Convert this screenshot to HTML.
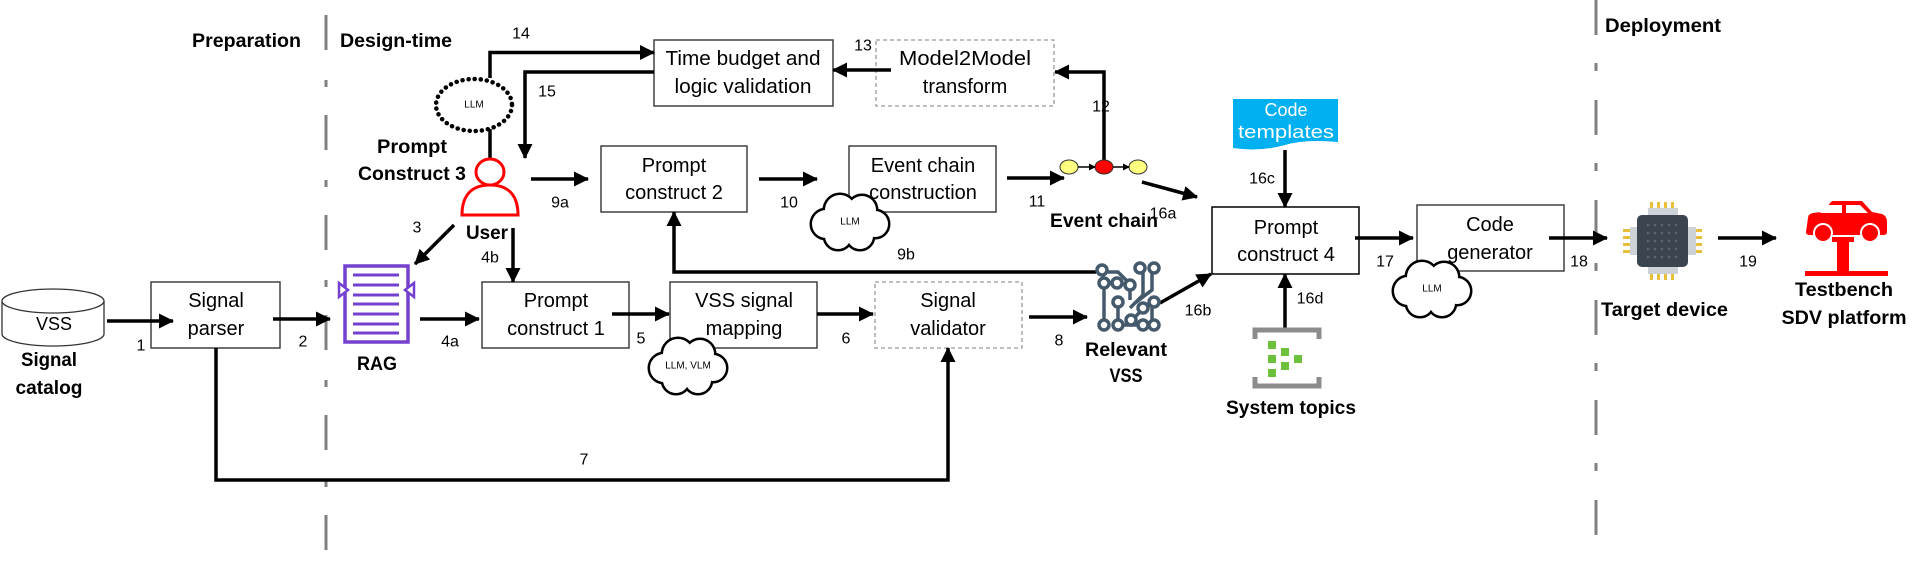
<!DOCTYPE html>
<html><head><meta charset="utf-8"><style>
html,body{margin:0;padding:0;background:#fff;}
svg{display:block;}
text{font-family:"Liberation Sans",sans-serif;fill:#000;}
.b{font-weight:bold;font-size:19px;}
.bx{font-size:20px;}
.n{font-size:16px;}
.s{font-size:10px;}
</style></head><body>
<svg width="1913" height="568" viewBox="0 0 1913 568" xmlns="http://www.w3.org/2000/svg">
<defs>
<marker id="a" markerUnits="userSpaceOnUse" markerWidth="16" markerHeight="16" refX="14" refY="7.5" orient="auto"><path d="M0,0 L15,7.5 L0,15 z" fill="#000"/></marker>
<marker id="sm" markerUnits="userSpaceOnUse" markerWidth="8" markerHeight="8" refX="6" refY="3.5" orient="auto"><path d="M0,0 L7,3.5 L0,7 z" fill="#000"/></marker>
</defs>

<line x1="326" y1="15" x2="326" y2="556" stroke="#808080" stroke-width="3" stroke-dasharray="35,30,7,28"/>
<line x1="1596" y1="0" x2="1596" y2="556" stroke="#808080" stroke-width="3" stroke-dasharray="35,28,8,29"/>

<text class="b" x="192" y="47" textLength="109" lengthAdjust="spacingAndGlyphs">Preparation</text>
<text class="b" x="340" y="47" textLength="112" lengthAdjust="spacingAndGlyphs">Design-time</text>
<text class="b" x="1605" y="32" textLength="116" lengthAdjust="spacingAndGlyphs">Deployment</text>

<g fill="#fff" stroke="#404040" stroke-width="1.5">
<rect x="151" y="282" width="129" height="66"/>
<rect x="482" y="282" width="147" height="66"/>
<rect x="670" y="282" width="147" height="66"/>
<rect x="601" y="146" width="146" height="66"/>
<rect x="849" y="146" width="147" height="66"/>
<rect x="654" y="40" width="179" height="66"/>
<rect x="1212" y="207" width="147" height="67" stroke="#000"/>
<rect x="1417" y="205" width="147" height="66"/>
</g>
<g fill="#fff" stroke="#999" stroke-width="1.3" stroke-dasharray="4,3">
<rect x="876" y="40" width="178" height="66"/>
<rect x="875" y="282" width="147" height="66"/>
</g>

<g class="bx" text-anchor="middle" dominant-baseline="central">
<text x="216" y="301" class="bx">Signal</text><text x="216" y="329" class="bx">parser</text>
<text x="556" y="301" class="bx">Prompt</text><text x="556" y="329" class="bx">construct 1</text>
<text x="744" y="301" class="bx">VSS signal</text><text x="744" y="329" class="bx">mapping</text>
<text x="948" y="301" class="bx">Signal</text><text x="948" y="329" class="bx">validator</text>
<text x="674" y="166" class="bx">Prompt</text><text x="674" y="193" class="bx">construct 2</text>
<text x="923" y="166" class="bx">Event chain</text><text x="923" y="193" class="bx">construction</text>
<text x="743" y="59" class="bx" textLength="155" lengthAdjust="spacingAndGlyphs">Time budget and</text><text x="743" y="87" class="bx" textLength="137" lengthAdjust="spacingAndGlyphs">logic validation</text>
<text x="965" y="59" class="bx" textLength="132" lengthAdjust="spacingAndGlyphs">Model2Model</text><text x="965" y="87" class="bx">transform</text>
<text x="1286" y="228" class="bx">Prompt</text><text x="1286" y="255" class="bx">construct 4</text>
<text x="1490" y="225" class="bx">Code</text><text x="1490" y="253" class="bx">generator</text>
</g>

<path d="M2,301 V334 A51,12 0 0 0 104,334 V301" fill="#fff" stroke="#333" stroke-width="1.3"/>
<ellipse cx="53" cy="301" rx="51" ry="12" fill="#fff" stroke="#333" stroke-width="1.3"/>
<text x="54" y="324" class="bx" text-anchor="middle" dominant-baseline="central" style="font-size:18px">VSS</text>
<text class="b" x="49" y="366" text-anchor="middle" textLength="56" lengthAdjust="spacingAndGlyphs">Signal</text>
<text class="b" x="49" y="394" text-anchor="middle" textLength="67" lengthAdjust="spacingAndGlyphs">catalog</text>

<g stroke="#7440d0" stroke-width="3.5" fill="none">
<rect x="345" y="266" width="63" height="76"/>
<g stroke-width="3"><line x1="353" y1="275" x2="399" y2="275"/><line x1="353" y1="285" x2="399" y2="285"/><line x1="353" y1="295" x2="399" y2="295"/><line x1="353" y1="304" x2="399" y2="304"/><line x1="353" y1="314" x2="399" y2="314"/><line x1="353" y1="324" x2="399" y2="324"/><line x1="353" y1="333" x2="399" y2="333"/></g>
<path d="M339,283 L348,290 L339,297 z" fill="#fff" stroke-width="2.5"/>
<path d="M414,283 L405,290 L414,297 z" fill="#fff" stroke-width="2.5"/>
</g>
<text class="b" x="377" y="370" text-anchor="middle" textLength="40" lengthAdjust="spacingAndGlyphs">RAG</text>

<g stroke="#000" stroke-width="3.5" fill="none" marker-end="url(#a)">
<line x1="107" y1="321" x2="173" y2="321"/>
<line x1="273" y1="319" x2="330" y2="319"/>
<line x1="420" y1="319" x2="479" y2="319"/>
<line x1="612" y1="314" x2="669" y2="314"/>
<line x1="817" y1="314" x2="873" y2="314"/>
<line x1="1029" y1="317" x2="1087" y2="317"/>
<line x1="454" y1="225" x2="415" y2="264"/>
<line x1="513" y1="228" x2="513" y2="282"/>
<line x1="531" y1="179" x2="588" y2="179"/>
<line x1="759" y1="179" x2="817" y2="179"/>
<line x1="1007" y1="178" x2="1064" y2="178"/>
<line x1="1142" y1="182" x2="1197" y2="197"/>
<line x1="1160" y1="303" x2="1211" y2="274"/>
<line x1="1285" y1="150" x2="1285" y2="207"/>
<line x1="1285" y1="328" x2="1285" y2="274"/>
<line x1="1355" y1="238" x2="1413" y2="238"/>
<line x1="1549" y1="238" x2="1607" y2="238"/>
<line x1="1718" y1="238" x2="1776" y2="238"/>
<line x1="891" y1="70" x2="833" y2="70"/>
<polyline points="490,78 490,52.5 654,52.5"/>
<polyline points="654,72 525,72 525,158"/>
<polyline points="1104,161 1104,72 1055,72"/>
<polyline points="1096,272 674,272 674,212"/>
<polyline points="216,348 216,480 948,480 948,348"/>
</g>
<line x1="490" y1="129" x2="490" y2="159" stroke="#000" stroke-width="3.5"/>

<g class="n" text-anchor="middle" dominant-baseline="central">
<text class="n" x="141" y="346">1</text>
<text class="n" x="303" y="342">2</text>
<text class="n" x="417" y="228">3</text>
<text class="n" x="450" y="342">4a</text>
<text class="n" x="490" y="258">4b</text>
<text class="n" x="641" y="339">5</text>
<text class="n" x="846" y="339">6</text>
<text class="n" x="584" y="460">7</text>
<text class="n" x="1059" y="341">8</text>
<text class="n" x="560" y="203">9a</text>
<text class="n" x="906" y="255">9b</text>
<text class="n" x="789" y="203">10</text>
<text class="n" x="1037" y="202">11</text>
<text class="n" x="1101" y="107">12</text>
<text class="n" x="863" y="46">13</text>
<text class="n" x="521" y="34">14</text>
<text class="n" x="547" y="92">15</text>
<text class="n" x="1163" y="214">16a</text>
<text class="n" x="1198" y="311">16b</text>
<text class="n" x="1262" y="179">16c</text>
<text class="n" x="1310" y="299">16d</text>
<text class="n" x="1385" y="262">17</text>
<text class="n" x="1579" y="262">18</text>
<text class="n" x="1748" y="262">19</text>
</g>

<ellipse cx="474" cy="105" rx="38" ry="26" fill="#fff" stroke="#000" stroke-width="4.5" stroke-dasharray="0.1,6" stroke-linecap="round"/>
<text class="s" x="474" y="105" text-anchor="middle" dominant-baseline="central">LLM</text>

<g>
<g stroke="#000" stroke-width="5" fill="#000">
<circle cx="826" cy="224" r="14"/><circle cx="840" cy="210" r="15"/><circle cx="862" cy="210" r="14"/><circle cx="875" cy="224" r="13"/><circle cx="860" cy="236" r="13"/><circle cx="838" cy="236" r="13"/>
<circle cx="664" cy="368" r="14"/><circle cx="678" cy="354" r="15"/><circle cx="700" cy="354" r="14"/><circle cx="713" cy="368" r="13"/><circle cx="698" cy="380" r="13"/><circle cx="676" cy="380" r="13"/>
<circle cx="1408" cy="291" r="14"/><circle cx="1422" cy="277" r="15"/><circle cx="1444" cy="277" r="14"/><circle cx="1457" cy="291" r="13"/><circle cx="1442" cy="303" r="13"/><circle cx="1420" cy="303" r="13"/>
</g>
<g fill="#fff">
<circle cx="826" cy="224" r="14"/><circle cx="840" cy="210" r="15"/><circle cx="862" cy="210" r="14"/><circle cx="875" cy="224" r="13"/><circle cx="860" cy="236" r="13"/><circle cx="838" cy="236" r="13"/><rect x="830" y="214" width="40" height="20"/>
<circle cx="664" cy="368" r="14"/><circle cx="678" cy="354" r="15"/><circle cx="700" cy="354" r="14"/><circle cx="713" cy="368" r="13"/><circle cx="698" cy="380" r="13"/><circle cx="676" cy="380" r="13"/><rect x="668" y="358" width="40" height="20"/>
<circle cx="1408" cy="291" r="14"/><circle cx="1422" cy="277" r="15"/><circle cx="1444" cy="277" r="14"/><circle cx="1457" cy="291" r="13"/><circle cx="1442" cy="303" r="13"/><circle cx="1420" cy="303" r="13"/><rect x="1412" y="281" width="40" height="20"/>
</g>
<text class="s" x="850" y="222" text-anchor="middle" dominant-baseline="central">LLM</text>
<text class="s" x="688" y="366" text-anchor="middle" dominant-baseline="central">LLM, VLM</text>
<text class="s" x="1432" y="289" text-anchor="middle" dominant-baseline="central">LLM</text>
</g>

<g stroke="#f00" stroke-width="3" fill="#fff">
<path d="M462,215 C462,195 472,185 490,185 C508,185 518,195 518,215 Z"/>
<ellipse cx="490" cy="172" rx="14" ry="13"/>
</g>
<text class="b" x="412" y="153" text-anchor="middle" textLength="70" lengthAdjust="spacingAndGlyphs">Prompt</text>
<text class="b" x="412" y="180" text-anchor="middle" textLength="108" lengthAdjust="spacingAndGlyphs">Construct 3</text>
<text class="b" x="487" y="239" text-anchor="middle" textLength="42" lengthAdjust="spacingAndGlyphs">User</text>

<ellipse cx="1069" cy="167" rx="9" ry="7" fill="#ffff80" stroke="#333" stroke-width="1"/>
<ellipse cx="1104" cy="167" rx="9" ry="7" fill="#f00" stroke="#333" stroke-width="1"/>
<ellipse cx="1138" cy="167" rx="9" ry="7" fill="#ffff80" stroke="#333" stroke-width="1"/>
<line x1="1078" y1="167" x2="1095" y2="167" stroke="#000" stroke-width="1.5" marker-end="url(#sm)"/>
<line x1="1113" y1="167" x2="1129" y2="167" stroke="#000" stroke-width="1.5" marker-end="url(#sm)"/>
<text class="b" x="1050" y="227" textLength="108" lengthAdjust="spacingAndGlyphs">Event chain</text>

<g stroke="#44596b" stroke-width="3.5" fill="#fff">
<path d="M1108,272 L1118,272 L1130,284 L1130,300 M1143,270 L1143,295 L1130,308 M1152,270 L1152,290 L1135,303 M1104,285 L1104,322 M1118,300 L1118,322 M1132,320 L1140,312 M1152,300 L1152,322 M1118,325 L1152,325" fill="none"/>
<circle cx="1102" cy="270" r="5"/><circle cx="1140" cy="268" r="5"/><circle cx="1154" cy="268" r="5"/>
<circle cx="1104" cy="283" r="5"/><circle cx="1117" cy="283" r="5"/><circle cx="1130" cy="285" r="5"/>
<circle cx="1118" cy="302" r="5"/><circle cx="1143" cy="308" r="5"/><circle cx="1154" cy="302" r="5"/>
<circle cx="1104" cy="325" r="5"/><circle cx="1118" cy="325" r="5"/><circle cx="1131" cy="320" r="5"/><circle cx="1143" cy="325" r="5"/><circle cx="1154" cy="325" r="5"/>
</g>
<text class="b" x="1126" y="356" text-anchor="middle" textLength="82" lengthAdjust="spacingAndGlyphs">Relevant</text>
<text class="b" x="1126" y="382" text-anchor="middle" textLength="33" lengthAdjust="spacingAndGlyphs">VSS</text>

<path d="M1233,99 H1338 V142 Q1305,139 1285,145 Q1260,152 1233,148 Z" fill="#00b0f0"/>
<text x="1286" y="110" text-anchor="middle" dominant-baseline="central" style="font-size:18px;fill:#fff">Code</text>
<text x="1286" y="132" text-anchor="middle" dominant-baseline="central" style="font-size:18px;fill:#fff" textLength="96" lengthAdjust="spacingAndGlyphs">templates</text>

<path d="M1255,339 V330 H1319 V339 M1255,377 V386 H1319 V377" fill="none" stroke="#8c8c8c" stroke-width="5"/>
<g fill="#6cc03a">
<rect x="1268" y="341" width="8" height="8"/><rect x="1281" y="348" width="8" height="8"/><rect x="1268" y="355" width="8" height="8"/><rect x="1294" y="355" width="8" height="8"/><rect x="1281" y="362" width="8" height="8"/><rect x="1268" y="369" width="8" height="8"/>
</g>
<text class="b" x="1291" y="414" text-anchor="middle" textLength="130" lengthAdjust="spacingAndGlyphs">System topics</text>

<g fill="#e8be3a">
<rect x="1650" y="202" width="3" height="7"/><rect x="1657" y="202" width="3" height="7"/><rect x="1664" y="202" width="3" height="7"/><rect x="1671" y="202" width="3" height="7"/>
<rect x="1650" y="273" width="3" height="7"/><rect x="1657" y="273" width="3" height="7"/><rect x="1664" y="273" width="3" height="7"/><rect x="1671" y="273" width="3" height="7"/>
<rect x="1623" y="229" width="7" height="3"/><rect x="1623" y="236" width="7" height="3"/><rect x="1623" y="243" width="7" height="3"/><rect x="1623" y="250" width="7" height="3"/>
<rect x="1695" y="229" width="7" height="3"/><rect x="1695" y="236" width="7" height="3"/><rect x="1695" y="243" width="7" height="3"/><rect x="1695" y="250" width="7" height="3"/>
</g>
<g fill="#cdd2d6">
<rect x="1648" y="208" width="30" height="66"/><rect x="1630" y="227" width="66" height="28"/>
</g>
<rect x="1637" y="215" width="51" height="52" rx="5" fill="#3b4550"/>
<g fill="#5a6672">
<circle cx="1648" cy="225" r="1.3"/><circle cx="1655" cy="225" r="1.3"/><circle cx="1662" cy="225" r="1.3"/><circle cx="1669" cy="225" r="1.3"/><circle cx="1676" cy="225" r="1.3"/>
<circle cx="1648" cy="233" r="1.3"/><circle cx="1655" cy="233" r="1.3"/><circle cx="1662" cy="233" r="1.3"/><circle cx="1669" cy="233" r="1.3"/><circle cx="1676" cy="233" r="1.3"/>
<circle cx="1648" cy="241" r="1.3"/><circle cx="1655" cy="241" r="1.3"/><circle cx="1662" cy="241" r="1.3"/><circle cx="1669" cy="241" r="1.3"/><circle cx="1676" cy="241" r="1.3"/>
<circle cx="1648" cy="249" r="1.3"/><circle cx="1655" cy="249" r="1.3"/><circle cx="1662" cy="249" r="1.3"/><circle cx="1669" cy="249" r="1.3"/><circle cx="1676" cy="249" r="1.3"/>
<circle cx="1648" cy="257" r="1.3"/><circle cx="1655" cy="257" r="1.3"/><circle cx="1662" cy="257" r="1.3"/><circle cx="1669" cy="257" r="1.3"/><circle cx="1676" cy="257" r="1.3"/>
</g>
<text class="b" x="1601" y="316" textLength="127" lengthAdjust="spacingAndGlyphs">Target device</text>

<g fill="#f00">
<path d="M1808,218 Q1808,214 1813,213 L1822,212 L1832,201 L1862,201 L1872,212 L1882,214 Q1887,216 1887,222 L1887,232 Q1887,235 1883,235 L1810,235 Q1806,235 1806,232 Z"/>
<rect x="1837" y="237" width="12" height="36"/>
<rect x="1832" y="237" width="22" height="5"/>
<rect x="1805" y="271" width="83" height="5"/>
</g>
<g fill="#fff"><path d="M1828,205 L1842,205 L1842,213 L1820,213 Z"/><path d="M1846,205 L1860,205 L1868,213 L1846,213 Z"/></g>
<circle cx="1823" cy="233" r="9" fill="#f00" stroke="#fff" stroke-width="2"/>
<circle cx="1870" cy="233" r="9" fill="#f00" stroke="#fff" stroke-width="2"/>
<text class="b" x="1844" y="296" text-anchor="middle" textLength="98" lengthAdjust="spacingAndGlyphs">Testbench</text>
<text class="b" x="1844" y="324" text-anchor="middle" textLength="125" lengthAdjust="spacingAndGlyphs">SDV platform</text>
</svg>
</body></html>
